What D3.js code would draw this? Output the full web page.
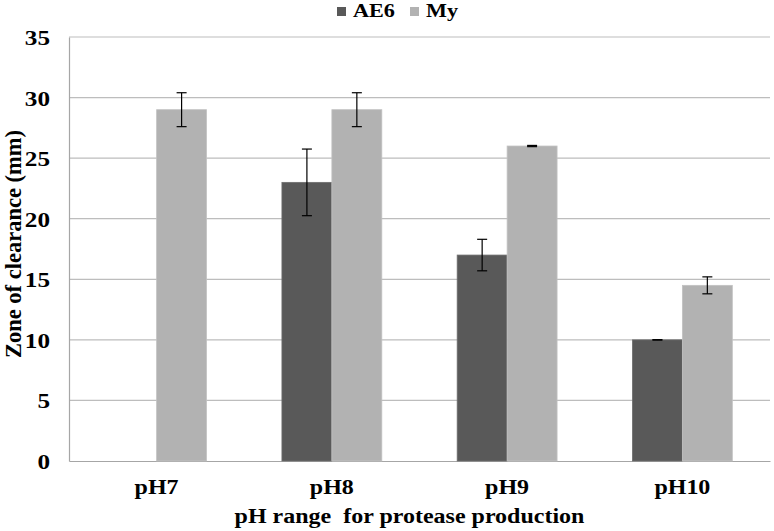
<!DOCTYPE html>
<html>
<head>
<meta charset="utf-8">
<script src="https://cdn.jsdelivr.net/npm/d3@7"></script>
<style>
  body { margin: 0; background: #fff; }
  svg text { font-family: "Liberation Serif", "Times New Roman", serif; font-weight: bold; fill: #000; }
</style>
</head>
<body>
<div class="container"></div>
<script>
// data
var categories = ["pH7", "pH8", "pH9", "pH10"];
var seriesNames = ["AE6", "My"];
var ae6Values = [null, 23, 17, 10];
var ae6Errors = [null, 2.75, 1.3, 0.02];
var myValues = [29, 29, 26, 14.5];
var myErrors = [1.4, 1.4, 0.05, 0.7];
var yTicks = [0, 5, 10, 15, 20, 25, 30, 35];

var colors = { AE6: "#595959", My: "#b2b2b2" };

// the text in the reference is a bit wider than plain Times, stretch it
var stretch = 1.2;

// svg container
var svgWidth = 774;
var svgHeight = 531;
var margin = { top: 37, right: 4, bottom: 70, left: 69 };
var width = svgWidth - margin.left - margin.right;
var height = svgHeight - margin.top - margin.bottom;

var svg = d3.select(".container")
  .append("svg")
  .attr("width", svgWidth)
  .attr("height", svgHeight);

var chartGroup = svg.append("g")
  .attr("transform", `translate(${margin.left}, ${margin.top})`);

// build rows
var rows = categories.map(function(c, i) {
  return [
    { cat: c, series: "AE6", value: ae6Values[i], err: ae6Errors[i] },
    { cat: c, series: "My", value: myValues[i], err: myErrors[i] }
  ];
});

// scales
var xScale = d3.scaleBand()
  .domain(categories)
  .range([0, width])
  .paddingInner(0.43)
  .paddingOuter(0.215);

var xInner = d3.scaleBand()
  .domain(seriesNames)
  .range([0, xScale.bandwidth()]);

var yScale = d3.scaleLinear()
  .domain([0, 35])
  .range([height, 0]);

// gridlines
chartGroup.append("g")
  .selectAll("line")
  .data(yTicks.filter(d => d > 0))
  .enter()
  .append("line")
  .attr("x1", 0)
  .attr("x2", width)
  .attr("y1", d => yScale(d))
  .attr("y2", d => yScale(d))
  .attr("stroke", "#bdbdbd")
  .attr("stroke-width", 1.2);

// left axis
var leftAxis = d3.axisLeft(yScale).tickValues(yTicks).tickSize(0);
var yAxisG = chartGroup.append("g").call(leftAxis);
yAxisG.select(".domain").attr("stroke", "#a6a6a6").attr("stroke-width", 1.2);
yAxisG.selectAll("text")
  .style("font-size", "21px")
  .attr("x", -19 / stretch)
  .attr("dy", "0.36em")
  .attr("transform", `scale(${stretch}, 1)`);

// bottom axis
var bottomAxis = d3.axisBottom(xScale).tickSize(0);
var xAxisG = chartGroup.append("g")
  .attr("transform", `translate(0, ${height})`)
  .call(bottomAxis);
xAxisG.select(".domain").attr("stroke", "#a6a6a6").attr("stroke-width", 1.2);
xAxisG.selectAll("text")
  .style("font-size", "20px")
  .attr("y", 33)
  .attr("dy", 0)
  .attr("transform", `scale(${stretch}, 1)`);

// bars
var groups = chartGroup.selectAll(".group")
  .data(rows)
  .enter()
  .append("g")
  .attr("transform", d => `translate(${xScale(d[0].cat)}, 0)`);

groups.selectAll("rect")
  .data(d => d.filter(b => b.value != null))
  .enter()
  .append("rect")
  .attr("x", d => xInner(d.series))
  .attr("y", d => yScale(d.value))
  .attr("width", xInner.bandwidth())
  .attr("height", d => height - yScale(d.value))
  .attr("fill", d => colors[d.series])
  .attr("stroke", d => d.series == "AE6" ? "#6e6e6e" : "#c2c2c2")
  .attr("stroke-width", 0.8);

// error bars
var errG = groups.selectAll(".err")
  .data(d => d.filter(b => b.value != null))
  .enter()
  .append("g")
  .attr("stroke", "#000")
  .attr("stroke-width", 1.2);

errG.append("line")
  .attr("x1", d => xInner(d.series) + xInner.bandwidth() / 2)
  .attr("x2", d => xInner(d.series) + xInner.bandwidth() / 2)
  .attr("y1", d => yScale(d.value + d.err))
  .attr("y2", d => yScale(d.value - d.err));

[1, -1].forEach(function(sign) {
  errG.append("line")
    .attr("x1", d => xInner(d.series) + xInner.bandwidth() / 2 - 5)
    .attr("x2", d => xInner(d.series) + xInner.bandwidth() / 2 + 5)
    .attr("y1", d => yScale(d.value + sign * d.err))
    .attr("y2", d => yScale(d.value + sign * d.err));
});

// axis titles
svg.append("text")
  .attr("transform", `translate(21, 244) rotate(-90)`)
  .attr("text-anchor", "middle")
  .style("font-size", "22.5px")
  .text("Zone of clearance (mm)");

svg.append("text")
  .attr("transform", `translate(${margin.left + width / 2 - 10}, 523) scale(${stretch}, 1)`)
  .attr("text-anchor", "middle")
  .style("font-size", "20px")
  .style("white-space", "pre")
  .text("pH range  for protease production");

// legend
var legendItems = [
  { name: "AE6", x: 337 },
  { name: "My", x: 410 }
];
var legend = svg.selectAll(".legend")
  .data(legendItems)
  .enter()
  .append("g")
  .attr("transform", d => `translate(${d.x}, 0)`);

legend.append("rect")
  .attr("x", 0)
  .attr("y", 7)
  .attr("width", 9)
  .attr("height", 9)
  .attr("fill", d => colors[d.name]);

legend.append("text")
  .attr("transform", `translate(16, 17) scale(${stretch}, 1)`)
  .style("font-size", "18.5px")
  .text(d => d.name);
</script>
</body>
</html>
